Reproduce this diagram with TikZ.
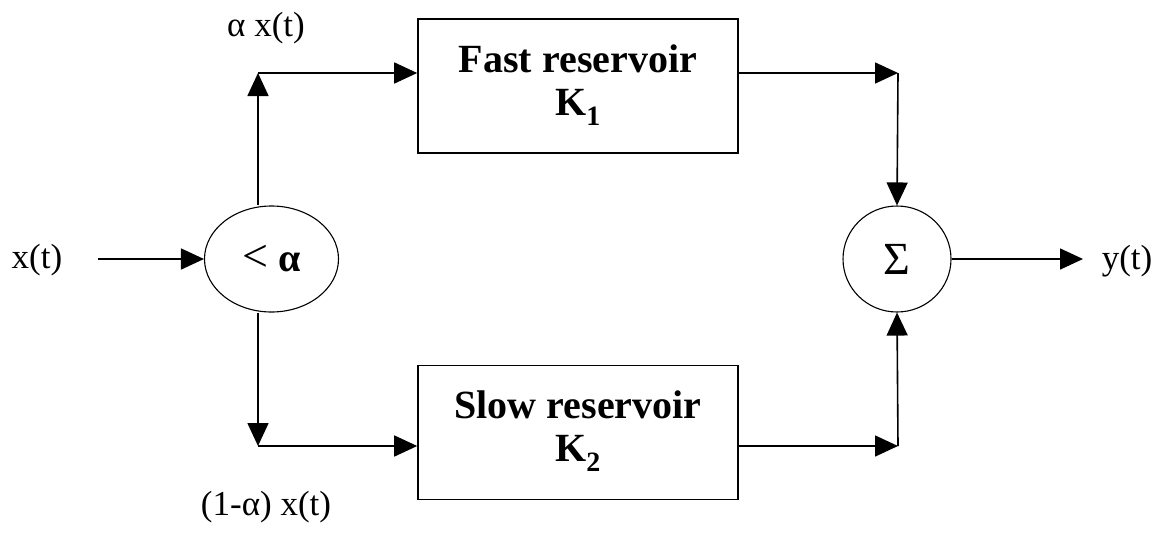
\documentclass[tikz,border=0pt]{standalone}
\usepackage{fontspec}
\setmainfont{Liberation Serif}
\usetikzlibrary{arrows.meta,shapes.geometric}

\begin{document}
\begin{tikzpicture}[x=1pt,y=-1pt,
  wire/.style={line width=1.6pt},
  arr/.style={wire,-{Triangle[length=23pt,width=21pt]}},
  blockbox/.style={draw,line width=1.6pt,minimum width=320pt,minimum height=134pt,
    inner sep=0pt,align=center,font=\fontsize{40}{43}\selectfont\bfseries},
  junction/.style={draw,ellipse,line width=1.1pt,inner sep=0pt},
  sig/.style={font=\fontsize{35}{40}\selectfont,inner sep=0pt}
]
\useasboundingbox (0,0) rectangle (1166,533);

% blocks
\node[junction,minimum width=134pt,minimum height=106pt] (split) at (271.5,259)
  {{\fontsize{46}{46}\selectfont\textless}\hspace{10pt}{\fontsize{40}{40}\selectfont\bfseries α}};
\node[junction,minimum width=108pt,minimum height=106pt] (sum) at (897,259)
  {\fontsize{46}{46}\selectfont Σ};
\node[blockbox] (fast) at (578,86) {Fast reservoir\\K\textsubscript{1}\rule[-12pt]{0pt}{0pt}};
\node[blockbox] (slow) at (578,432.5) {Slow reservoir\\K\textsubscript{2}\rule[-12pt]{0pt}{0pt}};

% signal labels
\node[sig] (xin) at (37,260) {x(t)};
\node[sig] (yout) at (1127,261) {y(t)};
\node[sig] (la) at (266,28) {α x(t)};
\node[sig] (lb) at (266,507) {(1-α) x(t)};

% routing points
\coordinate (inS) at (98,259);
\coordinate (outE) at (1083,259);
\coordinate (tl) at (258,73);
\coordinate (bl) at (258,446);
\coordinate (tr) at (898,73);
\coordinate (br) at (898,446);

% connectors
\draw[arr] (inS) -- (split.west);
\draw[arr] (split.north -| tl) -- (tl);
\draw[arr] (tl) -- (fast.west |- tl);
\draw[arr] (split.south -| bl) -- (bl);
\draw[arr] (bl) -- (slow.west |- bl);
\draw[arr] (fast.east |- tr) -- (tr);
\draw[arr] (tr) -- (sum.north);
\draw[arr] (slow.east |- br) -- (br);
\draw[arr] (br) -- (sum.south);
\draw[arr] (sum.east) -- (outE);
\end{tikzpicture}
\end{document}
